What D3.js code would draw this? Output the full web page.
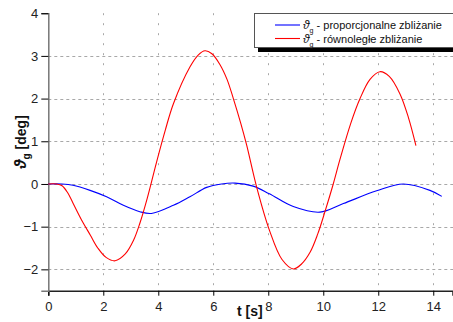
<!DOCTYPE html>
<html>
<head>
<meta charset="utf-8">
<script src="https://cdn.jsdelivr.net/npm/d3@7"></script>
<style>
  body { margin: 0; background: #fff; }
  svg { display: block; font-family: 'Liberation Sans', Arial, sans-serif; }
</style>
</head>
<body>
<script>
(function (d3) {
  'use strict';

  // proporcjonalne zbliżanie (blue)
  const blueT = [0, 0.5, 0.9, 1.52, 2.12, 2.73, 3.33, 3.75, 4.55, 5.15, 5.76, 6.3, 6.79, 7.45,
    8.04, 8.91, 9.88, 10.73, 11.94, 12.91, 13.88, 14.31];
  const blueV = [0, 0, -0.03, -0.15, -0.3, -0.5, -0.65, -0.69, -0.5, -0.3, -0.08, 0.0, 0.02, -0.05,
    -0.23, -0.53, -0.66, -0.46, -0.16, 0.0, -0.15, -0.29];

  // równoległe zbliżanie (red)
  const redT = [0, 0.3, 0.5, 0.7, 0.9, 1.2, 1.53, 1.8, 2.1, 2.43, 2.8, 3.1, 3.33, 3.6, 3.94,
    4.25, 4.55, 5.15, 5.45, 5.7, 5.95, 6.24, 6.5, 6.73, 7.0, 7.21, 7.58, 8.04, 8.5, 8.91, 9.2,
    9.52, 9.8, 10.07, 10.35, 10.61, 11.0, 11.33, 11.7, 12.06, 12.4, 12.79, 13.1, 13.37];
  const redV = [0, 0, -0.04, -0.2, -0.45, -0.83, -1.2, -1.5, -1.72, -1.8, -1.64, -1.32, -0.92,
    -0.33, 0.52, 1.25, 1.88, 2.74, 3.02, 3.12, 3.05, 2.8, 2.45, 2.0, 1.42, 0.92, -0.08, -1.08,
    -1.77, -1.99, -1.88, -1.6, -1.17, -0.63, -0.03, 0.58, 1.42, 1.99, 2.45, 2.63, 2.52, 2.11,
    1.55, 0.9];

  const xTicks = [0, 2, 4, 6, 8, 10, 12, 14];
  const yTicks = [-2, -1, 0, 1, 2, 3, 4];
  const legendLabels = [' - proporcjonalne zbliżanie', ' - równoległe zbliżanie'];
  const colors = ['#0000ff', '#ff0000'];

  const width = 453;
  const height = 322;

  const x = d3.scaleLinear().domain([0, 14.7]).range([48.3, 452.5]);
  const y = d3.scaleLinear().domain([-2.5, 4]).range([290.7, 13.2]);

  const svg = d3.select('body')
    .append('svg')
    .attr('width', width)
    .attr('height', height);

  svg.append('rect')
    .attr('width', width)
    .attr('height', height)
    .attr('fill', '#fff');

  // grid
  svg.append('g')
    .selectAll('line')
    .data(yTicks.filter((d) => d < 4))
    .join('line')
    .attr('x1', x(0))
    .attr('x2', width)
    .attr('y1', (d) => Math.round(y(d)) + 0.5)
    .attr('y2', (d) => Math.round(y(d)) + 0.5)
    .attr('stroke', '#a8a8a8')
    .attr('stroke-dasharray', '3,3');

  svg.append('g')
    .selectAll('line')
    .data(xTicks.filter((d) => d > 0))
    .join('line')
    .attr('x1', (d) => Math.round(x(d)) + 0.5)
    .attr('x2', (d) => Math.round(x(d)) + 0.5)
    .attr('y1', y(4))
    .attr('y2', y(-2.5))
    .attr('stroke', '#a8a8a8')
    .attr('stroke-dasharray', '2,8');

  // axes
  const xAxis = svg.append('g')
    .attr('transform', `translate(0, ${y(-2.5)})`);
  xAxis.call(d3.axisBottom(x).tickValues(d3.range(0, 15, 1)).tickSize(3).tickFormat(''));
  xAxis.call(d3.axisBottom(x).tickValues(xTicks).tickSize(5).tickPadding(6).tickFormat(d3.format('d')));
  xAxis.selectAll('.domain').attr('stroke', '#222').attr('stroke-width', 1.5);
  xAxis.selectAll('text').attr('font-size', 13).attr('fill', '#222').attr('font-family', null);

  const yAxis = svg.append('g')
    .attr('transform', `translate(${x(0)}, 0)`);
  yAxis.call(d3.axisLeft(y).tickValues(d3.range(-2.5, 4.01, 0.5)).tickSize(4).tickFormat(''));
  yAxis.call(d3.axisLeft(y).tickValues(yTicks).tickSize(7).tickPadding(3).tickFormat(d3.format('d')));
  yAxis.selectAll('.domain').attr('stroke', '#777').attr('stroke-width', 1.5);
  yAxis.selectAll('text').attr('font-size', 13).attr('fill', '#222').attr('font-family', null);

  // curves
  const line = d3.line()
    .x((d) => x(d[0]))
    .y((d) => y(d[1]))
    .curve(d3.curveCatmullRom.alpha(0.5));

  const series = [
    d3.zip(blueT, blueV),
    d3.zip(redT, redV),
  ];

  svg.append('g')
    .selectAll('path')
    .data(series)
    .join('path')
    .attr('d', line)
    .attr('fill', 'none')
    .attr('stroke', (d, i) => colors[i])
    .attr('stroke-width', 1.1);

  // axis titles
  svg.append('text')
    .attr('x', 237)
    .attr('y', 316)
    .attr('font-size', 14)
    .attr('font-weight', 'bold')
    .attr('fill', '#111')
    .text('t [s]');

  const yTitle = svg.append('text')
    .attr('transform', 'translate(26, 142) rotate(-90)')
    .attr('text-anchor', 'middle')
    .attr('font-size', 14)
    .attr('font-weight', 'bold')
    .attr('fill', '#111');
  yTitle.append('tspan').attr('font-style', 'italic').attr('font-size', 16).text('ϑ');
  yTitle.append('tspan').attr('font-size', 10).attr('dy', 4).text('g');
  yTitle.append('tspan').attr('dy', -4).text(' [deg]');

  // legend
  const legend = svg.append('g');
  legend.append('rect')
    .attr('x', 258)
    .attr('y', 47)
    .attr('width', 200)
    .attr('height', 5)
    .attr('fill', '#000');
  legend.append('rect')
    .attr('x', 254.5)
    .attr('y', 13.5)
    .attr('width', 210)
    .attr('height', 34)
    .attr('fill', '#fff')
    .attr('stroke', '#555');

  const items = legend.selectAll('g.item')
    .data(legendLabels)
    .join('g')
    .attr('class', 'item')
    .attr('transform', (d, i) => `translate(0, ${25 + i * 13.5})`);

  items.append('line')
    .attr('x1', 275)
    .attr('x2', 300)
    .attr('stroke', (d, i) => colors[i])
    .attr('stroke-width', 1.1);

  const itemText = items.append('text')
    .attr('x', 303)
    .attr('y', 4)
    .attr('font-size', 11)
    .attr('fill', '#111');
  itemText.append('tspan').attr('font-style', 'italic').attr('font-size', 12).text('ϑ');
  itemText.append('tspan').attr('font-size', 7).attr('dy', 4).text('g');
  itemText.append('tspan').attr('dy', -4).text((d) => d);

}(d3));
</script>
</body>
</html>
